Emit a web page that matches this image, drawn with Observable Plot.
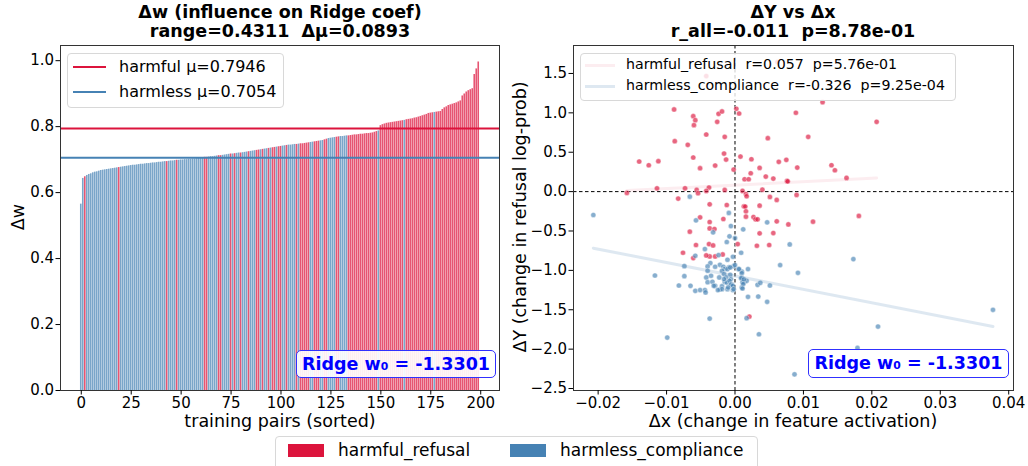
<!DOCTYPE html>
<html>
<head>
<meta charset="utf-8">
<script src="https://cdn.jsdelivr.net/npm/d3@7"></script>
<script src="https://cdn.jsdelivr.net/npm/@observablehq/plot@0.6"></script>
<style>
  body { margin: 0; background: #fff; }
  #wrap { position: relative; width: 1028px; height: 466px; font-family: "DejaVu Sans", sans-serif; color: #000; overflow: hidden; }
  .title { position: absolute; font-weight: bold; font-size: 17.5px; line-height: 19px; text-align: center; white-space: pre; }
  .lab { position: absolute; font-size: 17.5px; line-height: 20px; white-space: pre; }
  .legbox { position: absolute; background: rgba(255,255,255,0.8); border: 1px solid #d8d8d8; border-radius: 4px; }
  .entry { position: absolute; white-space: pre; }
  .sw { position: absolute; }
  .ridge { position: absolute; border: 1px solid #3030ff; border-radius: 5px; background: rgba(255,255,255,0.9); color: #0000ff; font-weight: bold; font-size: 17.5px; text-align: center; line-height: 26px; white-space: pre; }
  svg { position: absolute; top: 0; }
</style>
</head>
<body>
<div id="wrap"></div>
<script>
const RED = "#DC143C";
const BLUE = "#4682B4";

// ---- Left panel: sorted Δw per training pair ----
const barValues = [
  0.565, 0.643, 0.648, 0.652, 0.655, 0.657, 0.660, 0.662, 0.663, 0.665,
  0.667, 0.668, 0.669, 0.670, 0.671, 0.672, 0.673, 0.674, 0.675, 0.676,
  0.677, 0.678, 0.679, 0.680, 0.681, 0.682, 0.683, 0.683, 0.684, 0.685,
  0.686, 0.686, 0.687, 0.688, 0.688, 0.689, 0.690, 0.690, 0.691, 0.692,
  0.692, 0.693, 0.694, 0.694, 0.695, 0.696, 0.696, 0.697, 0.698, 0.698,
  0.699, 0.699, 0.700, 0.700, 0.701, 0.701, 0.702, 0.702, 0.703, 0.704,
  0.705, 0.706, 0.707, 0.707, 0.708, 0.709, 0.709, 0.710, 0.711, 0.712,
  0.712, 0.713, 0.714, 0.715, 0.716, 0.717, 0.717, 0.718, 0.719, 0.720,
  0.720, 0.721, 0.722, 0.723, 0.724, 0.725, 0.726, 0.727, 0.728, 0.729,
  0.730, 0.731, 0.732, 0.733, 0.734, 0.735, 0.736, 0.737, 0.738, 0.739,
  0.740, 0.741, 0.742, 0.743, 0.744, 0.744, 0.745, 0.746, 0.746, 0.747,
  0.748, 0.748, 0.749, 0.750, 0.751, 0.752, 0.753, 0.754, 0.755, 0.756,
  0.757, 0.758, 0.760, 0.762, 0.764, 0.765, 0.766, 0.767, 0.768, 0.769,
  0.770, 0.770, 0.771, 0.772, 0.772, 0.773, 0.774, 0.775, 0.775, 0.776,
  0.777, 0.777, 0.778, 0.779, 0.779, 0.780, 0.781, 0.783, 0.785, 0.787,
  0.803, 0.806, 0.808, 0.810, 0.811, 0.812, 0.813, 0.814, 0.815, 0.816,
  0.817, 0.818, 0.819, 0.821, 0.822, 0.823, 0.824, 0.826, 0.827, 0.829,
  0.831, 0.833, 0.835, 0.837, 0.840, 0.841, 0.842, 0.843, 0.844, 0.845,
  0.846, 0.852, 0.857, 0.860, 0.864, 0.866, 0.868, 0.870, 0.872, 0.875,
  0.878, 0.893, 0.899, 0.905, 0.909, 0.912, 0.915, 0.958, 0.975, 0.996
];
// harmful bars among the first half, harmless bars among the second half
const harmfulLow = [2,19,43,48,62,63,69,70,75,77,80,84,88,89,91,94,96,97,99];
const harmlessHigh = [101,102,104,105,106,107,109,115,116,120,121,124,125,126,127,130,131,132,133,149,162,177];
const harmfulMean = 0.7946;
const harmlessMean = 0.7054;
const xTicksLeft = [0, 25, 50, 75, 100, 125, 150, 175, 200];
const yTicksLeft = [0, 0.2, 0.4, 0.6, 0.8, 1.0];

// ---- Right panel: ΔY vs Δx ----
const harmfulPts = [
  [-0.0089,1.043],[-0.0061,0.958],[-0.0058,0.907],[-0.0060,0.844],[-0.0024,0.988],[-0.0019,1.018],
  [0.0002,1.052],[0.0006,0.992],[-0.0026,0.886],[0.0089,1.001],[-0.0042,0.725],[-0.0015,0.695],
  [-0.0088,0.640],[-0.0069,0.594],[0.0048,0.678],[-0.0061,0.433],[-0.0016,0.483],[-0.0013,0.407],
  [0.0008,0.445],[0.0024,0.411],[-0.0140,0.382],[-0.0126,0.335],[-0.0112,0.386],[-0.0051,0.297],
  [-0.0029,0.331],[-0.0002,0.280],[0.0036,0.301],[0.0064,0.378],[0.0075,0.403],[0.0023,0.233],
  [0.0014,0.157],[0.0020,0.157],[0.0045,0.191],[0.0056,0.165],[0.0076,0.136],[0.0077,0.130],
  [-0.0114,0.042],[-0.0073,0.042],[-0.0056,0.021],[-0.0038,0.051],[-0.0042,0.009],[-0.0054,-0.021],
  [-0.0015,0.021],[-0.0158,-0.017],[0.0011,0.009],[0.0016,-0.030],[0.0017,-0.059],[0.0040,0.025],
  [0.0090,-0.042],[-0.0083,-0.089],[0.0051,-0.068],[0.0061,-0.106],[-0.0037,-0.161],[-0.0012,-0.170],
  [0.0013,-0.187],[0.0015,-0.190],[0.0016,-0.250],[0.0036,-0.178],[-0.0051,-0.327],[-0.0017,-0.348],
  [0.0016,-0.318],[0.0027,-0.322],[0.0030,-0.352],[0.0033,-0.352],[0.0061,-0.377],[0.0078,-0.416],
  [-0.0037,-0.467],[-0.0030,-0.475],
  [0.0128,1.136],[0.0207,0.886],[0.0107,0.695],[0.0141,0.335],[0.0146,0.271],[0.0091,0.305],
  [0.0163,0.174],[0.0181,-0.309],[0.0114,-0.382],[0.0036,-0.530],[0.0056,-0.526],[0.0032,-0.687],
  [0.0050,-0.678],[0.0021,-1.587],
  [-0.0037,-0.386],[-0.0066,-0.509],[-0.0057,-0.678],[-0.0038,-0.666],[-0.0032,-0.683],[-0.0018,-0.798],
  [0.0004,-0.666],[-0.0076,-0.776],[-0.0061,-0.844],[-0.0037,-0.823],[-0.0029,-0.823],[-0.0042,-0.810],
  [-0.0042,1.467],[0.0062,1.645]
];
const harmlessPts = [
  [-0.0066,-0.064],[-0.0207,-0.297],[-0.0009,-0.271],[-0.0057,-0.365],[0.0047,-0.390],[-0.0006,-0.437],
  [0.0012,-0.479],
  [0.0009,-0.776],[0.0080,-0.670],[0.0173,-0.857],[0.0066,-0.933],[0.0092,-1.031],[0.0019,-0.984],
  [0.0010,-1.014],[0.0010,-1.098],[0.0013,-1.153],[0.0017,-1.132],[0.0010,-1.217],[0.0033,-1.183],
  [0.0037,-1.158],[0.0051,-1.192],[0.0019,-1.336],[0.0034,-1.332],[0.0047,-1.399],[0.0017,-1.607],
  [0.0035,-1.811],[0.0377,-1.501],[0.0209,-1.713],[0.0179,-1.985],[0.0087,-2.320],
  [-0.0032,-0.517],[-0.0008,-0.568],[0.0000,-0.590],[-0.0012,-0.640],[-0.0044,-0.729],[-0.0058,-0.814],
  [-0.0024,-0.806],[-0.0011,-0.865],[-0.0003,-0.827],[-0.0036,-0.907],[-0.0040,-0.950],[-0.0040,-1.005],
  [-0.0029,-0.954],[-0.0022,-0.929],[-0.0017,-0.954],[-0.0015,-0.984],[-0.0009,-0.963],[-0.0002,-0.946],
  [0.0000,-0.933],[0.0005,-0.984],[-0.0117,-1.065],[-0.0074,-0.946],[-0.0074,-1.073],[-0.0082,-1.192],
  [-0.0065,-1.196],[-0.0058,-1.260],[-0.0051,-1.250],[-0.0044,-1.250],[-0.0043,-1.280],[-0.0042,-1.090],
  [-0.0040,-1.150],[-0.0033,-1.145],[-0.0029,-1.196],[-0.0022,-1.243],[-0.0019,-1.200],[-0.0015,-1.145],
  [-0.0011,-1.238],[-0.0007,-1.056],[-0.0006,-1.111],[-0.0005,-1.174],[-0.0003,-1.250],[-0.0019,-1.005],
  [-0.0016,-1.047],[-0.0013,-1.090],[0.0009,-1.100],[0.0011,-1.150],[0.0013,-1.115],[-0.0037,-1.612],
  [-0.0099,-1.853],
  [-0.0011,-0.984],[-0.0007,-0.963],[0.0006,-0.984],[0.0010,-1.035],[-0.0012,-1.154],[-0.0008,-1.132],
  [-0.0006,-1.180],[-0.0003,-1.196],[-0.0010,-1.217],[-0.0002,-1.238],[0.0012,-1.174],[-0.0023,-1.090],
  [-0.0016,-1.111],[-0.0035,-1.068],[-0.0031,-1.196],[-0.0019,-1.238],[-0.0025,-1.250],[0.0011,-1.230]
];
const xTicksRight = [-0.02, -0.01, 0.00, 0.01, 0.02, 0.03, 0.04];
const yTicksRight = [-2.5, -2.0, -1.5, -1.0, -0.5, 0.0, 0.5, 1.0, 1.5];

const classes = ["harmful_refusal", "harmless_compliance"];
const colorScale = {domain: classes, range: [RED, BLUE]};

const bars = barValues.map((w, i) => {
  let cls = i < 100 ? "harmless_compliance" : "harmful_refusal";
  if (harmfulLow.includes(i)) cls = "harmful_refusal";
  if (harmlessHigh.includes(i)) cls = "harmless_compliance";
  return {i, w, cls};
});

const pts = [
  ...harmfulPts.map(([x, y]) => ({x, y, cls: "harmful_refusal"})),
  ...harmlessPts.map(([x, y]) => ({x, y, cls: "harmless_compliance"}))
];

const wrap = document.getElementById("wrap");
const axisStyle = {tickSize: 4.5, tickPadding: 2, fontSize: 15, label: null};

const left = Plot.plot({
  width: 520, height: 430,
  marginLeft: 60, marginRight: 21, marginTop: 45, marginBottom: 40,
  style: {fontFamily: "DejaVu Sans", fontSize: "15px", background: "transparent", color: "#000"},
  x: {domain: [-10.4, 209.4]},
  y: {domain: [0, 1.046]},
  color: colorScale,
  marks: [
    Plot.rect(bars, {x1: d => d.i - 0.4, x2: d => d.i + 0.4, y1: 0, y2: "w", fill: "cls", fillOpacity: 0.72, inset: 0}),
    Plot.ruleY([harmfulMean], {stroke: RED, strokeWidth: 2}),
    Plot.ruleY([harmlessMean], {stroke: BLUE, strokeWidth: 2}),
    Plot.frame({stroke: "#333", strokeWidth: 1}),
    Plot.axisX({...axisStyle, ticks: xTicksLeft, tickFormat: d => String(d)}),
    Plot.axisY({...axisStyle, ticks: yTicksLeft, tickFormat: d3.format(".1f")})
  ]
});
left.style.left = "0px";
wrap.appendChild(left);

const right = Plot.plot({
  width: 508, height: 430,
  marginLeft: 53, marginRight: 15, marginTop: 45, marginBottom: 40,
  style: {fontFamily: "DejaVu Sans", fontSize: "15px", background: "transparent", color: "#000"},
  x: {domain: [-0.0236, 0.0407]},
  y: {domain: [-2.525, 1.855]},
  color: colorScale,
  marks: [
    Plot.ruleX([0], {stroke: "#000", strokeWidth: 1, strokeDasharray: "3.5,2.5"}),
    Plot.ruleY([0], {stroke: "#000", strokeWidth: 1, strokeDasharray: "3.5,2.5"}),
    Plot.dot(pts, {x: "x", y: "y", fill: "cls", r: 2.6, fillOpacity: 0.65, stroke: "white", strokeWidth: 0.4}),
    Plot.linearRegressionY(pts.filter(d => d.cls === "harmful_refusal"), {x: "x", y: "y", stroke: RED, strokeOpacity: 0.08, strokeWidth: 3, ci: 0}),
    Plot.linearRegressionY(pts.filter(d => d.cls === "harmless_compliance"), {x: "x", y: "y", stroke: BLUE, strokeOpacity: 0.18, strokeWidth: 3, ci: 0}),
    Plot.frame({stroke: "#333", strokeWidth: 1}),
    Plot.axisX({...axisStyle, ticks: xTicksRight, tickFormat: d3.format(".2f")}),
    Plot.axisY({...axisStyle, ticks: yTicksRight, tickFormat: d3.format(".1f")})
  ]
});
right.style.left = "520px";
wrap.appendChild(right);

function el(cls, css, text) {
  const d = document.createElement("div");
  d.className = cls;
  Object.assign(d.style, css);
  if (text !== undefined) d.textContent = text;
  wrap.appendChild(d);
  return d;
}

// Titles
el("title", {left: "80px", width: "400px", top: "3px"}, "Δw (influence on Ridge coef)\nrange=0.4311  Δμ=0.0893");
el("title", {left: "593px", width: "400px", top: "3px"}, "ΔY vs Δx\nr_all=-0.011  p=8.78e-01");

// Axis labels
el("lab", {left: "80px", width: "400px", textAlign: "center", top: "411px"}, "training pairs (sorted)");
el("lab", {left: "593px", width: "400px", textAlign: "center", top: "411px"}, "Δx (change in feature activation)");
el("lab", {left: "-182px", width: "400px", textAlign: "center", top: "207px", transform: "rotate(-90deg)"}, "Δw");
el("lab", {left: "320px", width: "400px", textAlign: "center", top: "207px", transform: "rotate(-90deg)"}, "ΔY (change in refusal log-prob)");

// Left legend
el("legbox", {left: "67px", top: "53px", width: "215px", height: "53px"});
el("sw", {left: "73px", top: "66px", width: "33px", height: "2px", background: RED});
el("sw", {left: "73px", top: "91px", width: "33px", height: "2px", background: BLUE});
el("entry", {left: "119px", top: "57px", fontSize: "16px"}, "harmful μ=" + harmfulMean.toFixed(4));
el("entry", {left: "119px", top: "82px", fontSize: "16px"}, "harmless μ=" + harmlessMean.toFixed(4));

// Right legend
el("legbox", {left: "580px", top: "53px", width: "374px", height: "46px"});
el("sw", {left: "585px", top: "64px", width: "30px", height: "3px", background: RED, opacity: "0.08"});
el("sw", {left: "585px", top: "85px", width: "30px", height: "3px", background: BLUE, opacity: "0.18"});
el("entry", {left: "626px", top: "56px", fontSize: "14.2px"}, "harmful_refusal  r=0.057  p=5.76e-01");
el("entry", {left: "626px", top: "77px", fontSize: "14.2px"}, "harmless_compliance  r=-0.326  p=9.25e-04");

// Ridge boxes
el("ridge", {left: "296px", top: "350px", width: "198px", height: "26px"}, "Ridge w₀ = -1.3301");
el("ridge", {left: "808px", top: "349px", width: "199px", height: "27px"}, "Ridge w₀ = -1.3301");

// Bottom legend
el("legbox", {left: "275px", top: "436px", width: "481px", height: "40px", background: "#fff"});
el("sw", {left: "288px", top: "444px", width: "36px", height: "13px", background: RED});
el("sw", {left: "510px", top: "444px", width: "36px", height: "13px", background: BLUE});
el("entry", {left: "338px", top: "440px", fontSize: "17px"}, classes[0]);
el("entry", {left: "560px", top: "440px", fontSize: "17px"}, classes[1]);
</script>
</body>
</html>
